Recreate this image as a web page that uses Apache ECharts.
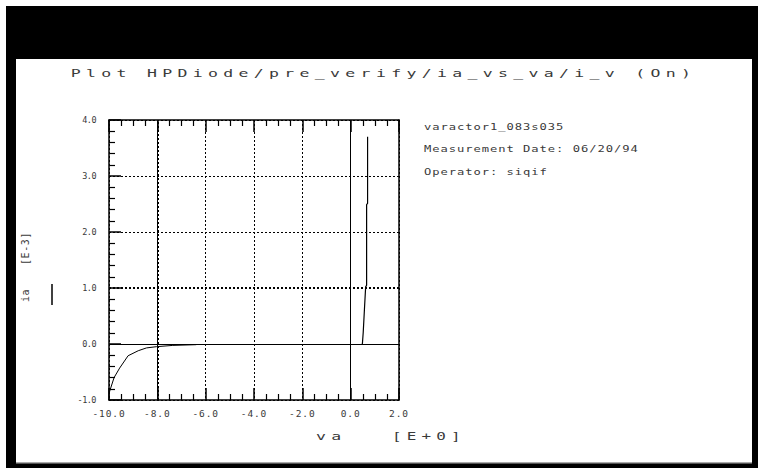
<!DOCTYPE html>
<html>
<head>
<meta charset="utf-8">
<title>ia vs va</title>
<script src="https://cdn.jsdelivr.net/npm/echarts@6/dist/echarts.min.js"></script>
<style>
  html, body { margin: 0; padding: 0; background: #fff; }
  #chart { width: 758px; height: 468px; }
  /* plotter-style lettering, keyed on each text group's font size */
  #chart text[style*="11px"] { letter-spacing: 3.55px; }
  #chart text[style*="10px"] { letter-spacing: 0.6px; }
  #chart text[style*="9px"] { letter-spacing: 0.7px; }
  #chart text[style*="9.5px"] { letter-spacing: 0.9px; }
  #chart text[style*="8.5px"] { letter-spacing: -0.5px; }
</style>
</head>
<body>
<div id="chart"></div>
<script>
// Measured diode current ia [E-3] against applied voltage va [E+0]
const reverseV = [-9.98, -9.97, -9.79, -9.56, -9.21, -8.79, -8.45, -8.04, -7.36, -6.39];
const reverseI = [-0.86, -0.84, -0.60, -0.43, -0.21, -0.12, -0.07, -0.048, -0.025, -0.012];
const forwardV = [0.48, 0.49, 0.52, 0.57, 0.62, 0.66, 0.66, 0.70, 0.70];
const forwardI = [0.00, 0.03, 0.21, 0.62, 1.02, 1.05, 2.49, 2.51, 3.70];

const xTicks = [-10, -8, -6, -4, -2, 0, 2];
const yTicks = [-1, 0, 1, 2, 3, 4];

const titleText = 'Plot HPDiode/pre_verify/ia_vs_va/i_v (On)';
const infoLines = ['varactor1_083s035', 'Measurement Date: 06/20/94', 'Operator: siqif'];
const xName = ['va', '[E+0]'];
const yName = ['ia', '[E-3]'];

const FONT = 'DejaVu Sans Mono';
const INK = '#3a3a3a';

const zip = (a, b) => a.map((v, i) => [v, b[i]]);

const chart = echarts.init(document.getElementById('chart'), null, { renderer: 'svg' });

const dotted = [2, 2];
const majorTick = { show: true, inside: true, length: 12, lineStyle: { color: '#000', width: 1.5 } };
const minorTick = { show: true, length: 6, lineStyle: { color: '#000', width: 1.2 } };
const frameLine = { show: true, onZero: false, lineStyle: { color: '#000', width: 1.5 } };

// free-standing text, optionally stretched sideways like a pen-plotter font
function label(text, x, y, size, align, extra) {
  return Object.assign({
    type: 'text', x: x, y: y, silent: true,
    style: { text: text, fontSize: size, fontFamily: FONT, fill: INK, textAlign: align, textVerticalAlign: 'middle' }
  }, extra || {});
}

const option = {
  animation: false,
  backgroundColor: '#fff',
  grid: { left: 109, top: 120, width: 290, height: 280, containLabel: false },
  xAxis: [
    {
      type: 'value', min: xTicks[0], max: xTicks[xTicks.length - 1], interval: 2,
      position: 'bottom',
      axisLine: frameLine,
      axisTick: majorTick,
      minorTick: Object.assign({ splitNumber: 4 }, minorTick),
      axisLabel: {
        margin: 8, fontSize: 9.5, fontFamily: FONT, color: INK,
        formatter: v => v.toFixed(1)
      },
      splitLine: { show: true, lineStyle: { color: '#000', width: 1, type: dotted } }
    },
    {
      type: 'value', min: xTicks[0], max: xTicks[xTicks.length - 1], interval: 2,
      position: 'top',
      axisLine: frameLine,
      axisTick: majorTick,
      minorTick: Object.assign({ splitNumber: 4 }, minorTick),
      axisLabel: { show: false },
      splitLine: { show: false }
    }
  ],
  yAxis: [
    {
      type: 'value', min: yTicks[0], max: yTicks[yTicks.length - 1], interval: 1,
      position: 'left',
      axisLine: frameLine,
      axisTick: majorTick,
      minorTick: Object.assign({ splitNumber: 5 }, minorTick),
      axisLabel: {
        margin: 13, fontSize: 8.5, fontFamily: FONT, color: INK,
        formatter: v => v.toFixed(1)
      },
      splitLine: { show: true, lineStyle: { color: '#000', width: 1, type: dotted } }
    },
    {
      type: 'value', min: yTicks[0], max: yTicks[yTicks.length - 1], interval: 1,
      position: 'right',
      axisLine: frameLine,
      axisTick: { show: false },
      axisLabel: { show: false },
      splitLine: { show: false }
    }
  ],
  series: [
    {
      type: 'line', xAxisIndex: 0, yAxisIndex: 0,
      data: zip(reverseV, reverseI),
      showSymbol: false, symbol: 'none',
      lineStyle: { color: '#000', width: 1 },
      markLine: {
        silent: true, symbol: 'none', label: { show: false },
        data: [
          { xAxis: 0, lineStyle: { color: '#000', width: 1, type: 'solid' } },
          { yAxis: 0, lineStyle: { color: '#000', width: 1, type: 'solid' } },
          { xAxis: -8, lineStyle: { color: '#000', width: 2, type: dotted } },
          { yAxis: 1, lineStyle: { color: '#000', width: 2, type: dotted } }
        ]
      },
      z: 3
    },
    {
      type: 'line', xAxisIndex: 0, yAxisIndex: 0,
      data: zip(forwardV, forwardI),
      showSymbol: false, symbol: 'none',
      lineStyle: { color: '#000', width: 1.2 },
      z: 3
    }
  ],
  graphic: [
    // outer frame and white plotting sheet
    { type: 'rect', z: -100, silent: true, shape: { x: 6, y: 6, width: 752, height: 462 }, style: { fill: '#000' } },
    { type: 'rect', z: -99, silent: true, shape: { x: 16, y: 59, width: 736, height: 404 }, style: { fill: '#fff' } },
    { type: 'rect', z: -98, silent: true, shape: { x: 16, y: 462, width: 736, height: 1.5 }, style: { fill: '#aaa' } },
    label(titleText, 383.5, 73, 11, 'center', { scaleX: 1.5 }),
    label(infoLines[0], 424, 127, 9, 'left', { scaleX: 1.35 }),
    label(infoLines[1], 424, 149, 9, 'left', { scaleX: 1.35 }),
    label(infoLines[2], 424, 172, 9, 'left', { scaleX: 1.35 }),
    label(xName[0], 316, 436, 11, 'left', { scaleX: 1.5 }),
    label(xName[1], 392, 436, 11, 'left', { scaleX: 1.45 }),
    label(yName[0], 25, 302, 10, 'left', { rotation: Math.PI / 2 }),
    label(yName[1], 25, 265, 10, 'left', { rotation: Math.PI / 2 }),
    {
      type: 'line', silent: true,
      shape: { x1: 52, y1: 284, x2: 52, y2: 305 },
      style: { stroke: '#000', lineWidth: 1.5 }
    }
  ]
};

chart.setOption(option);
</script>
</body>
</html>
